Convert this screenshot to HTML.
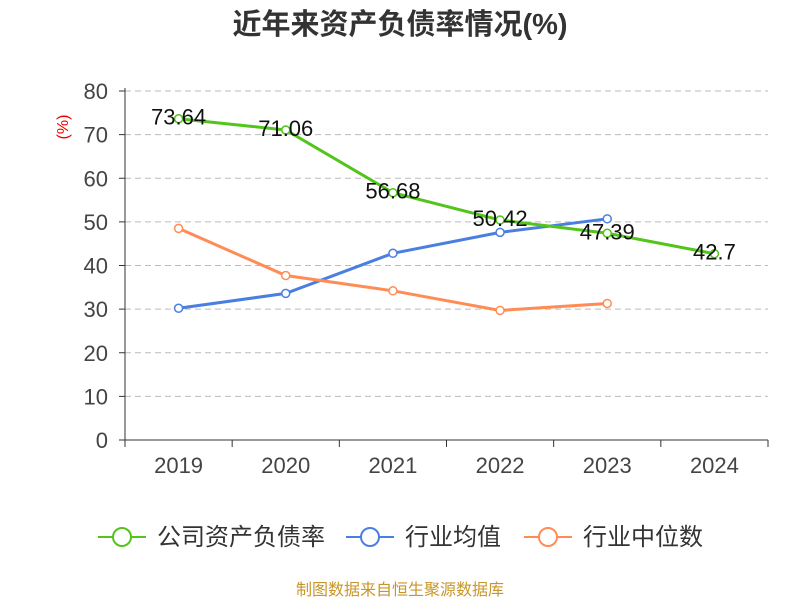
<!DOCTYPE html>
<html><head><meta charset="utf-8"><style>
body{margin:0;background:#fff;}
svg text{font-family:"Liberation Sans","Noto Sans CJK SC",sans-serif;}
</style></head><body>
<svg id="c" width="800" height="600" xmlns="http://www.w3.org/2000/svg">
<text x="400" y="34" text-anchor="middle" font-size="29" font-weight="bold" fill="#333">近年来资产负债率情况(%)</text>
<text x="68" y="127" font-size="16" fill="#e00" transform="rotate(-90 68 127)" text-anchor="middle">(%)</text>
<g id="grid"></g><g id="axes"></g><g id="series"></g>
<g>
<g><line x1="98" y1="537" x2="146" y2="537" stroke="#52c41a" stroke-width="2"/><circle cx="122" cy="537" r="9" fill="#fff" stroke="#52c41a" stroke-width="2"/><text x="157" y="545" font-size="24" fill="#333">公司资产负债率</text></g>
<g><line x1="346" y1="537" x2="394" y2="537" stroke="#4a7fe0" stroke-width="2"/><circle cx="370" cy="537" r="9" fill="#fff" stroke="#4a7fe0" stroke-width="2"/><text x="405" y="545" font-size="24" fill="#333">行业均值</text></g>
<g><line x1="524" y1="537" x2="572" y2="537" stroke="#ff8c55" stroke-width="2"/><circle cx="548" cy="537" r="9" fill="#fff" stroke="#ff8c55" stroke-width="2"/><text x="583" y="545" font-size="24" fill="#333">行业中位数</text></g>
</g>
<text x="400" y="595" text-anchor="middle" font-size="16" fill="#c8962a">制图数据来自恒生聚源数据库</text>
</svg>
<script>
const categories=["2019","2020","2021","2022","2023","2024"];
const company=[73.64,71.06,56.68,50.42,47.39,42.7];
const industryMean=[30.2,33.6,42.8,47.6,50.7];
const industryMedian=[48.5,37.7,34.2,29.7,31.3];
const yTicks=[0,10,20,30,40,50,60,70,80];
const NS="http://www.w3.org/2000/svg";
const L=125,R=768,T=91,B=440,yMax=80;
const bw=(R-L)/categories.length;
const xs=i=>L+bw*(i+0.5);
const ys=v=>B-(v/yMax)*(B-T);
function mk(tag,attrs,parent){const e=document.createElementNS(NS,tag);for(const k in attrs)e.setAttribute(k,attrs[k]);parent.appendChild(e);return e;}
const grid=document.getElementById('grid'),axes=document.getElementById('axes'),ser=document.getElementById('series');
yTicks.forEach(t=>{
 if(t>0){const g=mk('line',{x1:L,x2:R,y1:ys(t),y2:ys(t),stroke:'#bbb','stroke-dasharray':'6,4'},grid);
 
 }
 const tk=mk('line',{x1:L-6,x2:L,y1:ys(t),y2:ys(t),stroke:'#333'},axes);
 
 
 const tx=mk('text',{x:L-17,y:ys(t)+8,'text-anchor':'end','font-size':22,fill:'#444'},axes);tx.textContent=t;
 
 
});
const ya=mk('line',{x1:L,x2:L,y1:T-3,y2:B,stroke:'#333'},axes);


const xa=mk('line',{x1:L,x2:R,y1:B,y2:B,stroke:'#333'},axes);


for(let i=0;i<=categories.length;i++){const t=mk('line',{x1:L+bw*i,x2:L+bw*i,y1:B,y2:B+7,stroke:'#333'},axes);
 
 }
categories.forEach((c,i)=>{const t=mk('text',{x:xs(i),y:B+33,'text-anchor':'middle','font-size':22,fill:'#444'},axes);t.textContent=c;
 
 });
function series(data,color,name,labels){
 const g=mk('g',{},ser);
 
 
 const p=mk('polyline',{points:data.map((v,i)=>xs(i)+','+ys(v)).join(' '),fill:'none',stroke:color,'stroke-width':3},g);
 
 
 data.forEach((v,i)=>{const c=mk('circle',{cx:xs(i),cy:ys(v),r:4,fill:'#fff',stroke:color,'stroke-width':1.5},g);
  
  
  if(labels){const t=mk('text',{x:xs(i),y:ys(v)+6,'text-anchor':'middle','font-size':22,fill:'#111'},g);t.textContent=v;
   
   }
 });
}
series(industryMean,'#4a7fe0','industry-mean-series',false);
series(industryMedian,'#ff8c55','industry-median-series',false);
series(company,'#52c41a','company-series',true);
</script>
</body></html>
